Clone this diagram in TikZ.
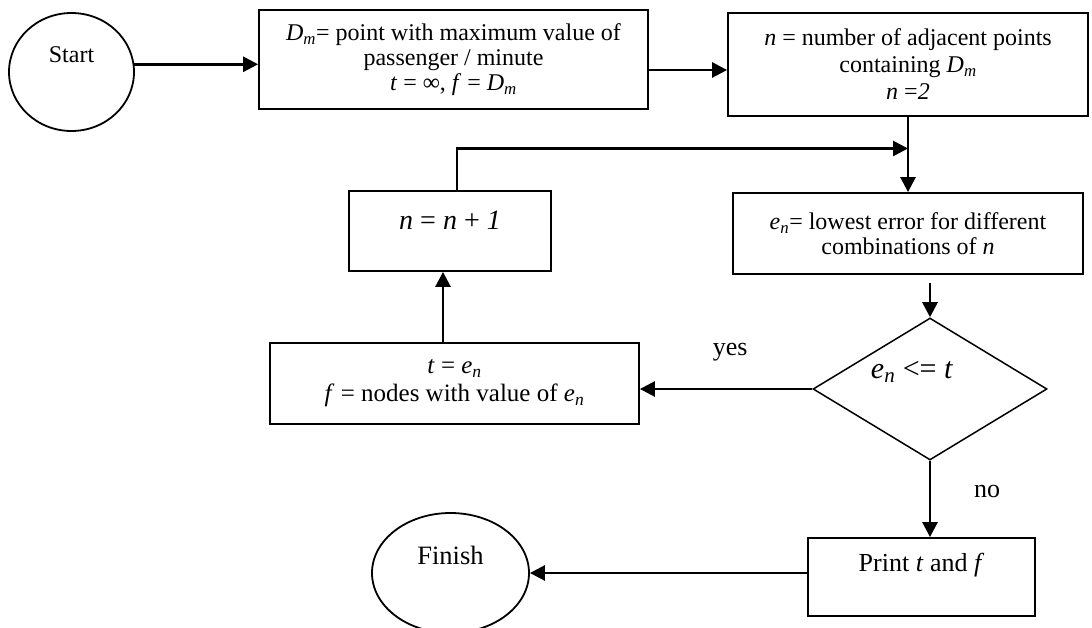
\documentclass[tikz,border=0pt]{standalone}
\usepackage{fontspec}
\setmainfont{Liberation Serif}
\usetikzlibrary{shapes.geometric, arrows.meta, positioning, calc}
\newcommand{\flowsize}[2]{\fontsize{#1bp}{#2bp}\selectfont}
\newcommand{\Dmax}{\textit{D}\textsubscript{\textit{m}}}
\newcommand{\errn}{\textit{e}\textsubscript{\textit{n}}}

\begin{document}
\begin{tikzpicture}[x=1bp, y=-1bp,
      box/.style={draw, line width=1.8bp, align=center, inner sep=0pt},
      oval/.style={draw, ellipse, line width=1.8bp, inner sep=0pt},
      decision/.style={draw, diamond, line width=1.5bp, inner sep=0pt},
      tag/.style={font=\flowsize{26}{28}},
      arrow/.style={-{Triangle[length=15bp,width=15bp]}, line width=2.7bp}
    ]
    \useasboundingbox (0,0) rectangle (1092,628);
    \node[oval, minimum width=125bp, minimum height=118bp,
      label={[yshift=17bp, font=\flowsize{24}{27}]center:Start}] (start) at (71.5,72) {};
    \node[box, minimum width=389bp, minimum height=99bp, font=\flowsize{24}{25}] (locate) at (453.5,59.5)
      {\Dmax= point with maximum value of\\passenger / minute\\\textit{t} = ∞, \textit{f} = \Dmax};
    \node[box, minimum width=360bp, minimum height=103bp, font=\flowsize{24}{27}] (count) at (908,64.5)
      {\textit{n} = number of adjacent points\\containing \Dmax\\\textit{n} =\textit{2}};
    \node[box, minimum width=202bp, minimum height=80bp,
      label={[yshift=11bp, font=\flowsize{28}{30}]center:{\textit{n} = \textit{n} + \textit{1}}}] (incr) at (450,231) {};
    \node[box, minimum width=350bp, minimum height=81bp, font=\flowsize{24}{25}] (lowest) at (908,233.5)
      {\errn= lowest error for different\\combinations of \textit{n}};
    \node[decision, minimum width=234bp, minimum height=142bp,
      label={[xshift=-18bp, yshift=17bp, font=\flowsize{30}{32}]center:{\errn{} <= \textit{t}}}] (check) at (930,389) {};
    \node[box, minimum width=369bp, minimum height=81bp, font=\flowsize{25}{28}] (update) at (454.5,383.5)
      {\textit{t} = \errn\\\textit{f} = nodes with value of \errn};
    \node[box, minimum width=227bp, minimum height=78bp,
      label={[yshift=12bp, tag]center:{Print \textit{t} and \textit{f}}}] (report) at (921.5,577) {};
    \node[oval, minimum width=157bp, minimum height=120bp,
      label={[yshift=18bp, font=\flowsize{26.5}{28}]center:Finish}] (finish) at (450.5,573) {};

    \coordinate (join) at ($(count.south)!0.42!(lowest.north)$);
    \draw[arrow] (start.7) -- (start.7 -| locate.west);
    \draw[arrow] ([yshift=-10.5bp]locate.east) -- ([yshift=-10.5bp]locate.east -| count.west);
    \draw[arrow] (count) -- (lowest);
    \draw[arrow] ([xshift=7bp]incr.north) |- (join);
    \draw[arrow, shorten <=8bp] (check.north |- lowest.south) -- (check.north);
    \draw[arrow] (check.west) -- (check.west -| update.east) node[midway, xshift=4bp, yshift=37bp, tag] {yes};
    \draw[arrow] ([xshift=-7bp]incr.south |- update.north) -- ([xshift=-7bp]incr.south);
    \draw[arrow] (check.south) -- (check.south |- report.north) node[midway, xshift=57bp, yshift=7bp, tag] {no};
    \draw[arrow] (report.west |- finish.east) -- (finish.east);
  \end{tikzpicture}
\end{document}
